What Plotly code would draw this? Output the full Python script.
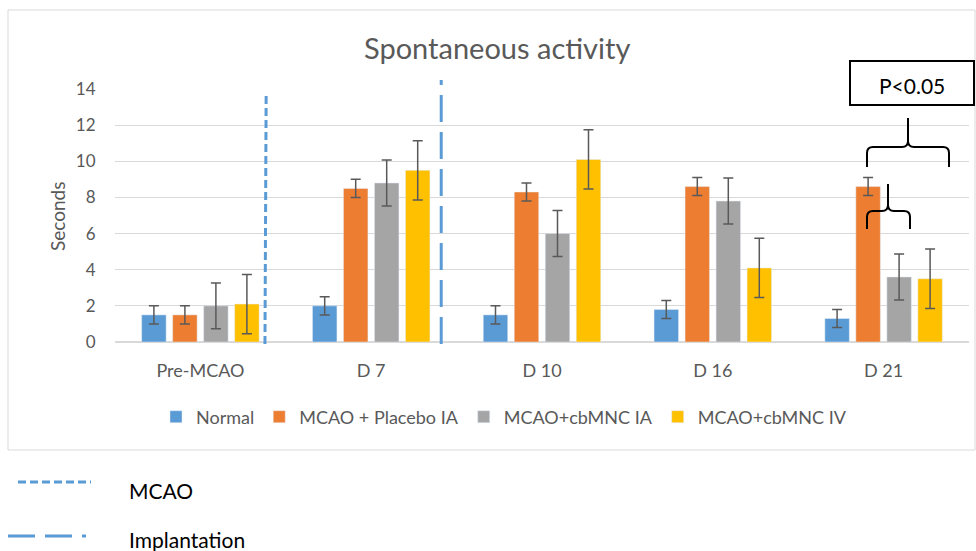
import plotly.graph_objects as go

categories = ["Pre-MCAO", "D 7", "D 10", "D 16", "D 21"]
series_names = ["Normal", "MCAO + Placebo IA", "MCAO+cbMNC IA", "MCAO+cbMNC IV"]
normal = [1.5, 2.0, 1.5, 1.8, 1.3]
placebo_ia = [1.5, 8.5, 8.3, 8.6, 8.6]
cbmnc_ia = [2.0, 8.8, 6.0, 7.8, 3.6]
cbmnc_iv = [2.1, 9.5, 10.1, 4.1, 3.5]
normal_err = [0.5, 0.5, 0.5, 0.5, 0.5]
placebo_err = [0.5, 0.5, 0.5, 0.5, 0.5]
ia_err = [1.27, 1.27, 1.27, 1.27, 1.27]
iv_err = [1.64, 1.64, 1.64, 1.64, 1.64]
y_ticks = [0, 2, 4, 6, 8, 10, 12, 14]

colors = ["#5B9BD5", "#ED7D31", "#A5A5A5", "#FFC000"]
FONT = "Lato"
W, H = 976, 551
L, R, T, B = 115, 7, 89, 209
PW, PH = W - L - R, H - T - B


def px(x):
    return (x - L) / PW


def py(y):
    return (H - B - y) / PH


fig = go.Figure()
for name, vals, errs, col in zip(series_names,
                                 [normal, placebo_ia, cbmnc_ia, cbmnc_iv],
                                 [normal_err, placebo_err, ia_err, iv_err],
                                 colors):
    fig.add_trace(go.Bar(
        x=categories, y=vals, name=name, marker_color=col,
        error_y=dict(type="data", array=errs, visible=True,
                     color="#595959", thickness=1.5, width=5),
    ))

shapes = []
# chart border
shapes.append(dict(type="rect", xref="paper", yref="paper",
                   x0=px(8), x1=px(975), y0=py(450), y1=py(10),
                   line=dict(color="#D9D9D9", width=1), layer="below"))
# MCAO & implantation vertical lines
shapes.append(dict(type="line", xref="x", yref="paper", x0=0.378, x1=0.385,
                   y0=py(344), y1=py(92),
                   line=dict(color="#5B9BD5", width=3, dash="8px,4px")))
shapes.append(dict(type="line", xref="x", yref="paper", x0=1.41, x1=1.41,
                   y0=py(344), y1=py(80),
                   line=dict(color="#5B9BD5", width=3, dash="27px,10px")))


def brace(xL, xR, xT, yE, yB, yT, r=6):
    pts = [
        f"M{px(xL)},{py(yE)}",
        f"L{px(xL)},{py(yB + r)}",
        f"Q{px(xL)},{py(yB)} {px(xL + r)},{py(yB)}",
        f"L{px(xT - r)},{py(yB)}",
        f"Q{px(xT)},{py(yB)} {px(xT)},{py(yB - r)}",
        f"L{px(xT)},{py(yT)}",
        f"M{px(xT)},{py(yB - r)}",
        f"Q{px(xT)},{py(yB)} {px(xT + r)},{py(yB)}",
        f"L{px(xR - r)},{py(yB)}",
        f"Q{px(xR)},{py(yB)} {px(xR)},{py(yB + r)}",
        f"L{px(xR)},{py(yE)}",
    ]
    return " ".join(pts)


shapes.append(dict(type="path", xref="paper", yref="paper",
                   path=brace(867, 949, 908, 167, 147, 118),
                   line=dict(color="black", width=2)))
shapes.append(dict(type="path", xref="paper", yref="paper",
                   path=brace(867, 910, 888, 229, 211, 184),
                   line=dict(color="black", width=2)))
# P box
shapes.append(dict(type="rect", xref="paper", yref="paper",
                   x0=px(850), x1=px(974), y0=py(105), y1=py(61),
                   line=dict(color="black", width=2), fillcolor="white"))
# bottom legend lines
shapes.append(dict(type="line", xref="paper", yref="paper",
                   x0=px(18), x1=px(91), y0=py(482), y1=py(482),
                   line=dict(color="#5B9BD5", width=3, dash="8px,4px")))
shapes.append(dict(type="line", xref="paper", yref="paper",
                   x0=px(8), x1=px(86), y0=py(536), y1=py(536),
                   line=dict(color="#5B9BD5", width=3, dash="27px,10px")))

annotations = [
    dict(text="Spontaneous activity", xref="paper", yref="paper",
         x=px(497), y=py(47), showarrow=False, xanchor="center", yanchor="middle",
         font=dict(family=FONT, size=29, color="#595959")),
    dict(text="Seconds", xref="paper", yref="paper", textangle=-90,
         x=px(57), y=py(216), showarrow=False, xanchor="center", yanchor="middle",
         font=dict(family=FONT, size=19, color="#595959")),
    dict(text="P<0.05", xref="paper", yref="paper",
         x=px(912), y=py(85), showarrow=False, xanchor="center", yanchor="middle",
         font=dict(family=FONT, size=21, color="black")),
    dict(text="MCAO", xref="paper", yref="paper",
         x=px(127), y=py(490), showarrow=False, xanchor="left", yanchor="middle",
         font=dict(family=FONT, size=21, color="black")),
    dict(text="Implantation", xref="paper", yref="paper",
         x=px(127), y=py(539), showarrow=False, xanchor="left", yanchor="middle",
         font=dict(family=FONT, size=21, color="black")),
]

fig.update_layout(
    width=W, height=H,
    margin=dict(l=L, r=R, t=T, b=B, pad=0),
    paper_bgcolor="white", plot_bgcolor="white",
    barmode="group", bargap=0.274, bargroupgap=0.21,
    font=dict(family=FONT, color="#595959"),
    shapes=shapes, annotations=annotations,
    showlegend=True,
    legend=dict(orientation="h", x=px(156), y=py(417), xanchor="left",
                yanchor="middle", font=dict(family=FONT, size=18, color="#595959"),
                bgcolor="rgba(0,0,0,0)"),
    xaxis=dict(showgrid=False, showline=False, zeroline=False,
               ticks="outside", ticklen=12, tickcolor="rgba(0,0,0,0)",
               tickfont=dict(family=FONT, size=18, color="#595959")),
    yaxis=dict(range=[0, 14], tickvals=y_ticks, showgrid=True,
               gridcolor="#D9D9D9", gridwidth=1.2, zeroline=True,
               zerolinecolor="#D9D9D9", zerolinewidth=1.5, showline=False,
               ticks="outside", ticklen=15, tickcolor="rgba(0,0,0,0)",
               tickfont=dict(family=FONT, size=17, color="#595959")),
)

fig.write_html(
    "out.html",
    config={"displayModeBar": False},
    post_script="document.body.style.margin='0px';document.body.style.overflow='hidden';",
)
